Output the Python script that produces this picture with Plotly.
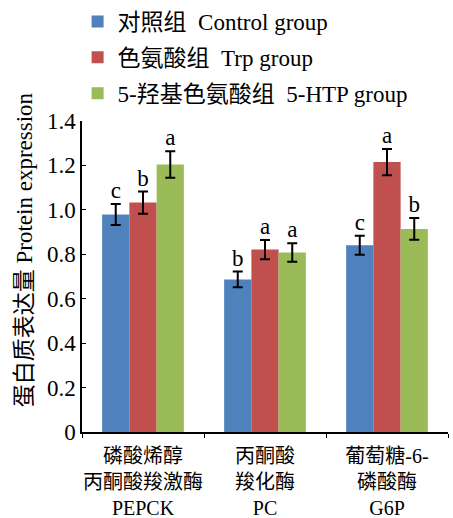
import plotly.graph_objects as go

categories = ["磷酸烯醇<br>丙酮酸羧激酶<br>PEPCK", "丙酮酸<br>羧化酶<br>PC", "葡萄糖-6-<br>磷酸酶<br>G6P"]
series_names = ["对照组  Control group", "色氨酸组  Trp group", "5-羟基色氨酸组  5-HTP group"]
y_title = "蛋白质表达量 Protein expression"
control = [0.979, 0.687, 0.841]
trp = [1.033, 0.821, 1.215]
htp = [1.204, 0.808, 0.914]
control_err = [0.047, 0.035, 0.043]
trp_err = [0.050, 0.043, 0.059]
htp_err = [0.060, 0.042, 0.049]
control_sig = ["c", "b", "c"]
trp_sig = ["b", "a", "a"]
htp_sig = ["a", "a", "b"]
ytick_vals = [0, 0.2, 0.4, 0.6, 0.8, 1.0, 1.2, 1.4]
ytick_text = ["0", "0.2", "0.4", "0.6", "0.8", "1.0", "1.2", "1.4"]

colors = ["#4F81BD", "#C0504D", "#9BBB59"]
FONT = "'Liberation Serif', 'Times New Roman', 'Noto Sans CJK SC', serif"
FS = 23

fig = go.Figure()
vals = [control, trp, htp]
errs = [control_err, trp_err, htp_err]
sigs = [control_sig, trp_sig, htp_sig]
for i in range(3):
    fig.add_trace(go.Bar(
        x=categories, y=vals[i], name=series_names[i],
        marker=dict(color=colors[i], line=dict(width=0)),
        offsetgroup=str(i), legendgroup=str(i),
        error_y=dict(type="data", array=errs[i], color="black", thickness=2, width=5),
    ))
for i in range(3):
    fig.add_trace(go.Scatter(
        x=categories, y=[v + e for v, e in zip(vals[i], errs[i])],
        mode="text", text=sigs[i], textposition="top center",
        textfont=dict(family=FONT, size=FS, color="black"),
        offsetgroup=str(i), showlegend=False, hoverinfo="skip",
    ))

fig.add_annotation(text=y_title, textangle=-90, xref="paper", yref="paper",
                   x=-0.158, y=0.585, xanchor="center", yanchor="middle", showarrow=False,
                   font=dict(family=FONT, size=FS, color="black"))

fig.update_layout(
    width=453, height=518,
    margin=dict(l=82, r=5, t=121, b=86, autoexpand=False),
    barmode="group", scattermode="group", bargap=0.33, bargroupgap=0,
    plot_bgcolor="white", paper_bgcolor="white",
    font=dict(family=FONT, size=FS, color="black"),
    showlegend=True,
    legend=dict(x=-0.012, y=1.008, xref="paper", yref="container", yanchor="top", xanchor="left",
                font=dict(family=FONT, size=FS), tracegroupgap=3,
                bgcolor="rgba(0,0,0,0)", itemwidth=30),
    xaxis=dict(showline=True, linecolor="black", linewidth=1.5, ticks="outside", ticklen=4,
               tickcolor="black", tickson="boundaries", showgrid=False, tickangle=0,
               ticklabelstandoff=5, tickfont=dict(family=FONT, size=20)),
    yaxis=dict(range=[0, 1.4], tickvals=ytick_vals, ticktext=ytick_text, showline=True,
               linecolor="black", linewidth=1.5, ticks="inside", ticklen=4, tickcolor="black",
               showgrid=False, zeroline=False, tickfont=dict(family=FONT, size=FS)),
)
fig.write_html("out.html")
